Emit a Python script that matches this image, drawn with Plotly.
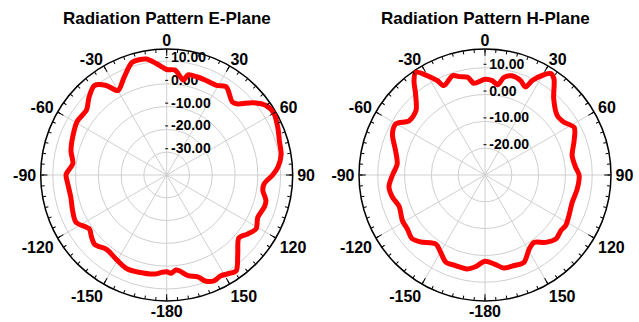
import plotly.graph_objects as go

# E-plane measured pattern (angle in degrees, gain in dB)
e_theta = [-180, -177, -173, -164, -157, -150, -141, -134, -129, -125, -117.5, -111, -103, -95,
           -90, -88, -83, -76, -68, -59, -51, -45, -39, -34, -30, -23.5, -17, -10, -5,
           0, 4.5, 10, 12, 17, 22, 29, 34, 42, 45, 50, 55, 60, 67, 73, 80, 86,
           90, 95, 99, 104.5, 108, 115, 121, 126, 131, 138, 144, 148, 152, 156, 160, 163,
           168, 172.5, 174.5, 177.5, 180]
e_gain = [2.5, 2.8, 3.8, 4.4, 4.7, 3.3, 2.0, 3.9, 2.6, 1.4, 4.9, 4.2, 3.2, 3.6,
          4.2, 3.5, 1.5, 3.3, 4.5, 5.8, 5.3, 8.2, 10.5, 7.4, 2.8, 6.8, 11.7, 11.7, 8.9,
          6.3, 6.2, 2.3, 4.9, 5.1, 5.0, 5.0, 6.7, 3.1, 4.1, 9.4, 13.2, 14.3, 13.0, 11.7, 11.0, 8.9,
          6.5, 3.0, 2.7, 5.0, 5.1, 4.1, 5.8, 4.0, 2.0, 6.6, 11.9, 11.1, 10.2, 10.9, 9.5, 6.7,
          5.2, 2.4, 1.9, 3.2, 2.5]

# H-plane measured pattern (angle in degrees, gain in dB)
h_theta = [-180, -174, -169, -162, -156, -150, -144.5, -136, -131, -125, -119, -110, -103.5, -97,
           -90, -83, -75, -66, -60, -54.5, -47, -40.6, -37, -34, -29, -26.8, -24.7, -18, -14.5,
           -10, -7, 0, 4.4, 8, 11, 15, 20.7, 24.7, 26.6, 30.5, 33, 35.7, 42, 50.6, 56, 62, 69,
           77.5, 85, 90, 98.6, 107.4, 116, 122, 126, 132, 138, 144, 149, 156, 162, 168.5, 174, 180]
h_gain = [2.2, 4.4, 5.7, 5.5, 5.7, 3.2, 1.6, 4.7, 6.1, 5.3, 5.2, 4.1, 5.5, 6.1,
          4.5, 3.0, 4.5, 7.8, 8.3, 4.8, 5.2, 9.8, 14.0, 16.2, 11.7, 9.4, 6.7, 9.0, 7.9,
          7.0, 4.5, 5.7, 5.3, 4.0, 7.1, 8.3, 7.6, 6.1, 9.4, 13.4, 15.1, 14.1, 8.3, 4.9, 5.4, 7.7, 5.6,
          3.3, 3.9, 5.1, 4.8, 4.1, 4.8, 5.5, 5.1, 5.6, 3.8, 1.1, 2.1, 5.7, 5.5, 5.4, 3.4, 2.2]

# Angular ticks (0 at top, clockwise, labelled -180..150)
ang_vals = list(range(0, 360, 30))
ang_text = ["0", "30", "60", "90", "120", "150", "-180", "-150", "-120", "-90", "-60", "-30"]
minor_vals = list(range(0, 360, 5))
# label groups: (inward shift of the label circle in px, angles)
ang_groups = [(1, [0, 180]), (-1, [30, 150, 210, 330]), (-4, [60, 90, 120, 240, 270, 300])]

e_rtick = [-30, -20, -10, 0, 10]
h_rtick = [-20, -10, 0, 10]
e_range = [-40, 15.3]
h_range = [-30, 17]

FONT = "Liberation Sans, Arial, sans-serif"
W, H = 639, 322
GRID = "#cfcfcf"
RAD = 126
CY = 175
PANELS = [(166.7, e_range, e_rtick, e_theta, e_gain), (485.0, h_range, h_rtick, h_theta, h_gain)]


def dom(cx, cy, rad):
    return dict(x=[(cx - rad) / W, (cx + rad) / W],
                y=[(H - (cy + rad)) / H, (H - (cy - rad)) / H])


def angular(**kw):
    base = dict(rotation=90, direction="clockwise", tickmode="array")
    base.update(kw)
    return base


def grid_polar(cx, rrange, rticks):
    # background, outer ring, major ticks, spokes and rings
    return dict(
        domain=dom(cx, CY, RAD), bgcolor="white",
        angularaxis=angular(tickvals=ang_vals, ticks="inside", ticklen=6, tickwidth=1,
                            tickcolor="black", showticklabels=False,
                            showline=True, linecolor="black", linewidth=1.5,
                            showgrid=True, gridcolor=GRID, gridwidth=1),
        radialaxis=dict(range=rrange, angle=90, tickmode="array", tickvals=rticks,
                        showticklabels=False, ticks="", showline=False,
                        showgrid=True, gridcolor=GRID, gridwidth=1),
    )


def radial_label_polar(cx, rrange, rticks):
    # radial scale labels, drawn a few pixels above their rings
    return dict(
        domain=dom(cx - 2, CY - 3.5, RAD), bgcolor="rgba(0,0,0,0)",
        angularaxis=angular(tickvals=[], showline=False, showgrid=False, ticks="",
                            showticklabels=False),
        radialaxis=dict(range=rrange, angle=90, tickangle=90, tickmode="array",
                        tickvals=rticks, ticktext=[f"{v:.2f}" for v in rticks],
                        ticks="outside", ticklen=3, tickcolor="black",
                        showline=False, showgrid=False,
                        tickfont=dict(family=FONT, size=14, color="black", weight="bold")),
    )


def angle_label_polar(cx, shrink, vals):
    return dict(
        domain=dom(cx, CY, RAD - shrink), bgcolor="rgba(0,0,0,0)",
        angularaxis=angular(tickvals=vals, ticktext=[ang_text[ang_vals.index(v)] for v in vals],
                            ticks="", showline=False, showgrid=False,
                            tickfont=dict(family=FONT, size=16, color="black", weight="bold")),
        radialaxis=dict(visible=False, range=[0, 1]),
    )


def data_polar(cx, rrange):
    # minor ticks and the pattern curve on top
    return dict(
        domain=dom(cx, CY, RAD), bgcolor="rgba(0,0,0,0)",
        angularaxis=angular(tickvals=minor_vals, ticktext=["" for _ in minor_vals],
                            ticks="inside", ticklen=3, tickwidth=1, tickcolor="black",
                            showline=False, showgrid=False),
        radialaxis=dict(visible=False, range=rrange),
    )


fig = go.Figure()
layout = {}
k = 1
for cx, rrange, rticks, theta, gain in PANELS:
    specs = [grid_polar(cx, rrange, rticks), radial_label_polar(cx, rrange, rticks)]
    specs += [angle_label_polar(cx, s, vals) for s, vals in ang_groups]
    specs.append(data_polar(cx, rrange))
    names = []
    for spec in specs:
        name = "polar" if k == 1 else f"polar{k}"
        layout[name] = spec
        names.append(name)
        k += 1
    for name in names[:-1]:
        fig.add_trace(go.Scatterpolar(r=[], theta=[], subplot=name, showlegend=False))
    fig.add_trace(go.Scatterpolar(r=gain, theta=theta, mode="lines", subplot=names[-1],
                                  line=dict(color="#ff0000", width=5, shape="spline", smoothing=0.8),
                                  showlegend=False, hoverinfo="skip"))

fig.update_layout(
    width=W, height=H,
    margin=dict(l=0, r=0, t=0, b=0),
    paper_bgcolor="white",
    annotations=[
        dict(text="Radiation Pattern E-Plane", x=166.7 / W, y=1 - 18 / H, xref="paper", yref="paper",
             showarrow=False, xanchor="center", yanchor="middle",
             font=dict(family=FONT, size=17, color="black", weight="bold")),
        dict(text="Radiation Pattern H-Plane", x=485 / W, y=1 - 18 / H, xref="paper", yref="paper",
             showarrow=False, xanchor="center", yanchor="middle",
             font=dict(family=FONT, size=17, color="black", weight="bold")),
    ],
    **layout,
)

fig.write_html("out.html")
